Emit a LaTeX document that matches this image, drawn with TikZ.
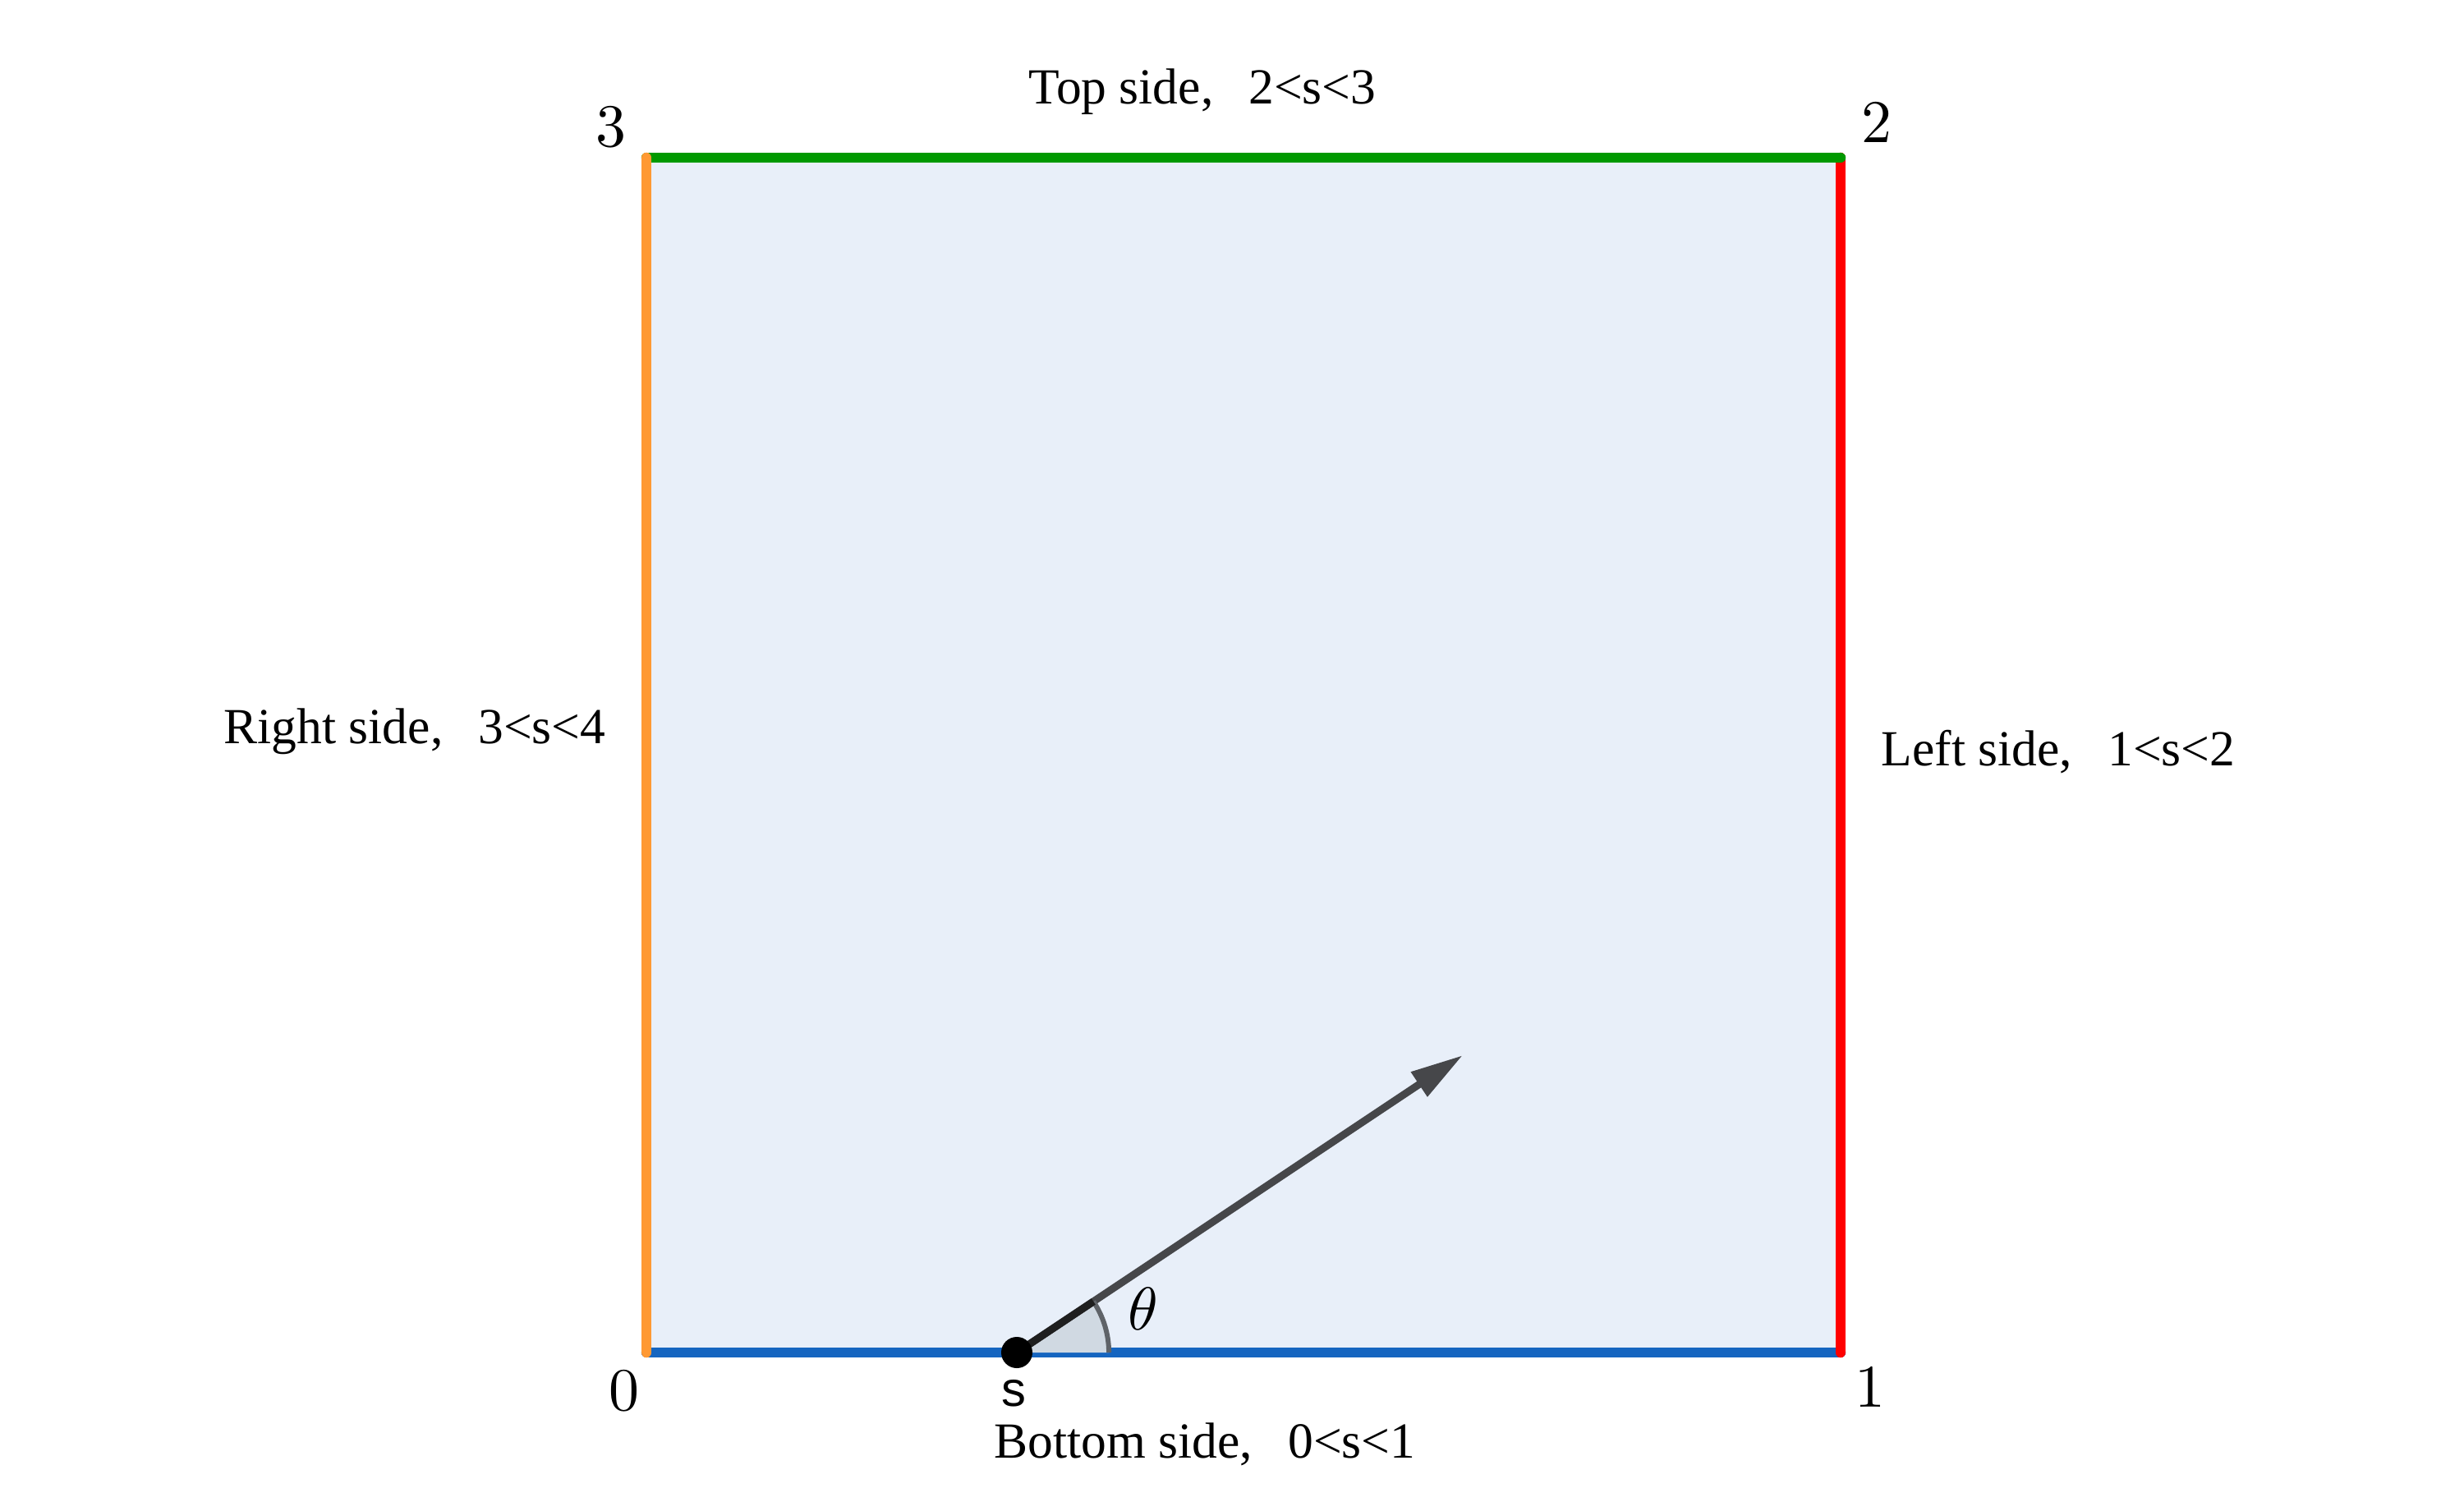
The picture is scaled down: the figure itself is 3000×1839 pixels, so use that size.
\documentclass[tikz,border=0pt]{standalone}
\usepackage[no-math]{fontspec}
\setmainfont{Liberation Serif}
\newfontfamily\sansS{Liberation Sans}
\font\cmdigits=cmr10 at 21pt
\font\cmtheta=cmmi10 at 21pt
\usetikzlibrary{arrows.meta}
\definecolor{sqfill}{RGB}{232,239,249}
\definecolor{cblue}{RGB}{21,101,192}
\definecolor{cgreen}{RGB}{0,153,0}
\definecolor{cred}{RGB}{255,0,0}
\definecolor{corange}{RGB}{255,153,51}
\definecolor{carrow}{RGB}{70,71,74}
\definecolor{csector}{RGB}{208,217,226}
\definecolor{carc}{RGB}{95,99,104}
\begin{document}
\begin{tikzpicture}[x=0.01cm,y=-0.01cm,
  edge/.style={line width=3.56pt,line cap=round},
  sidelabel/.style={anchor=base,inner sep=0pt,font=\fontsize{17.5}{21}\selectfont},
  cornerlabel/.style={inner sep=0pt,font=\cmdigits}]
\useasboundingbox (0,0) rectangle (3000,1839);
\coordinate (c0) at (787,1647);
\coordinate (c1) at (2241,1647);
\coordinate (c2) at (2241,192);
\coordinate (c3) at (787,192);
\fill[sqfill] (c0) rectangle (c2);
\draw[edge,cblue] (c0) -- (c1);
\draw[edge,cred] (c1) -- (c2);
\draw[edge,cgreen] (c2) -- (c3);
\draw[edge,corange] (c3) -- (c0);
% labels
\node[sidelabel] (ltop) at (1464,126) {Top side,\hspace{0.7em}2<s<3};
\node[sidelabel] (lright) at (505,905) {Right side,\hspace{0.7em}3<s<4};
\node[sidelabel] (lleft) at (2506,932) {Left side,\hspace{0.7em}1<s<2};
\node[sidelabel] (lbottom) at (1467,1775) {Bottom side,\hspace{0.7em}0<s<1};
\node[cornerlabel] (n3) at (744,155) {3};
\node[cornerlabel] (n2) at (2285,150) {2};
\node[cornerlabel] (n0) at (760,1694) {0};
\node[cornerlabel] (n1) at (2277,1690) {1};
% arrow and angle
\coordinate (p) at (1238,1647);
\coordinate (tip) at (1781,1285);
\fill[csector] (p) -- ++(1.12cm,0) arc[start angle=0,end angle=33.69,radius=1.12cm] -- cycle;
\draw[carrow,line width=2.56pt,-{Triangle[length=0.64cm,width=0.34cm]}] (p) -- (tip);
\draw[carc,line width=1.7pt] (p) ++(1.12cm,0) arc[start angle=0,end angle=33.69,radius=1.12cm];
\draw[black!88,line width=2.56pt] (p) -- ++(33.69:1.12cm);
\fill[black] (p) circle[radius=0.19cm];
\node[inner sep=0pt,font=\cmtheta] (th) at (1391,1594) {\char"12};
\node[inner sep=0pt,font=\sansS\fontsize{17}{20}\selectfont] (s) at (1234,1697) {s};
\end{tikzpicture}
\end{document}
